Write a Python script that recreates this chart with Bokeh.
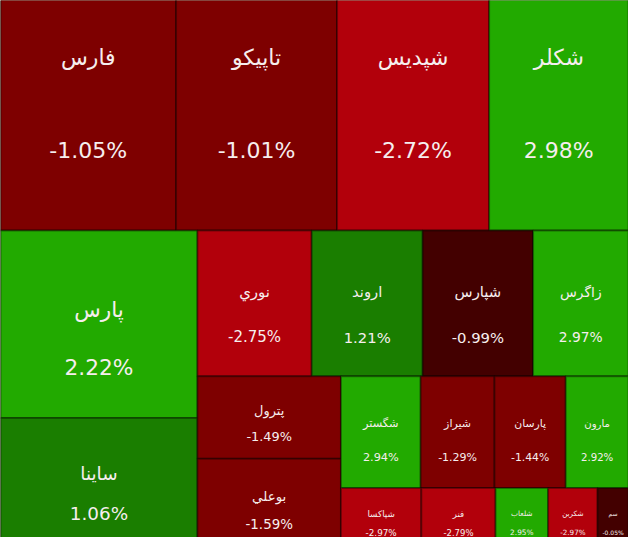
from bokeh.plotting import figure
from bokeh.models import ColumnDataSource, Range1d
from bokeh.core.properties import value
from bokeh.embed import file_html
from bokeh.resources import INLINE
import math

# ---- data ----
symbols = ["فارس", "تاپیکو", "شپدیس", "شکلر",
           "پارس", "ساینا",
           "نوري", "اروند", "شپارس", "زاگرس",
           "پترول", "بوعلي",
           "شگستر", "شیراز", "پارسان", "مارون",
           "شپاکسا", "فنر", "شلعاب", "شکربن", "سم"]
changes = [-1.05, -1.01, -2.72, 2.98,
           2.22, 1.06,
           -2.75, 1.21, -0.99, 2.97,
           -1.49, -1.59,
           2.94, -1.29, -1.44, 2.92,
           -2.97, -2.79, 2.95, -2.97, -0.05]
weights = [553, 507, 479, 439,
           390, 273,
           176, 171, 170, 147,
           125, 137,
           94, 87, 84, 74,
           52, 48, 34, 32, 20]

# treemap nesting: ("h", ...) side by side, ("v", ...) stacked
tree = ("v", [("h", [0, 1, 2, 3]),
              ("h", [("v", [4, 5]),
                     ("v", [("h", [6, 7, 8, 9]),
                            ("h", [("v", [10, 11]),
                                   ("v", [("h", [12, 13, 14, 15]),
                                          ("h", [16, 17, 18, 19, 20])])])])])])


def total(node):
    if isinstance(node, int):
        return weights[node]
    return sum(total(c) for c in node[1])


def layout(node, x0, y0, x1, y1, out):
    if isinstance(node, int):
        out[node] = (x0, y0, x1, y1)
        return
    orient, children = node
    ws = [total(c) for c in children]
    s = float(sum(ws))
    pos = x0 if orient == "h" else y0
    for c, w in zip(children, ws):
        if orient == "h":
            nxt = pos + (x1 - x0) * w / s
            layout(c, pos, y0, nxt, y1, out)
        else:
            nxt = pos + (y1 - y0) * w / s
            layout(c, x0, pos, x1, nxt, out)
        pos = nxt


def colour(c):
    if c >= 2:
        return "#22aa00"
    if c > 0:
        return "#1a7e00"
    if c > -1:
        return "#430000"
    if c > -2:
        return "#7e0000"
    return "#b2000b"


# full treemap frame (the screenshot shows a cropped window of it)
FX0, FY0, FX1, FY1 = 0, -70, 644, 565
rects = {}
layout(tree, FX0, FY0, FX1, FY1, rects)

xs, ys, ws_, hs, cols = [], [], [], [], []
nx, ny, py, fs, labels, pcts = [], [], [], [], [], []
for i in range(len(symbols)):
    x0, y0, x1, y1 = rects[i]
    w, h = x1 - x0, y1 - y0
    xs.append((x0 + x1) / 2)
    ys.append((y0 + y1) / 2)
    ws_.append(w)
    hs.append(h)
    cols.append(colour(changes[i]))
    size = min(22.0, 1.35 + 0.103 * math.sqrt(w * h))
    fs.append(f"{size:.1f}px")
    nx.append((x0 + x1) / 2)
    ny.append(y0 + 0.42 * h)
    py.append(y0 + 0.73 * h)
    labels.append(symbols[i])
    pcts.append(f"{changes[i]:.2f}%")

src = ColumnDataSource(dict(x=xs, y=ys, w=ws_, h=hs, c=cols,
                            nx=nx, ny=ny, py=py, fs=fs,
                            name=labels, pct=pcts))

p = figure(width=628, height=537, output_backend="svg", toolbar_location=None,
           x_range=Range1d(0, 644), y_range=Range1d(553, 0),
           min_border=0)
p.axis.visible = False
p.grid.visible = False
p.outline_line_color = None
p.background_fill_color = "#202000"

p.rect(x="x", y="y", width="w", height="h", source=src,
       fill_color="c", line_color="#000000", line_alpha=0.35, line_width=2)

p.text(x="nx", y="ny", text="name", source=src, text_align="center",
       text_baseline="middle", text_color="#f6eeee", text_font_size="fs",
       text_font=value("DejaVu Sans"))
p.text(x="nx", y="py", text="pct", source=src, text_align="center",
       text_baseline="middle", text_color="#f6eeee", text_font_size="fs",
       text_font=value("DejaVu Sans"))

open("out.html", "w").write(file_html(p, INLINE))
